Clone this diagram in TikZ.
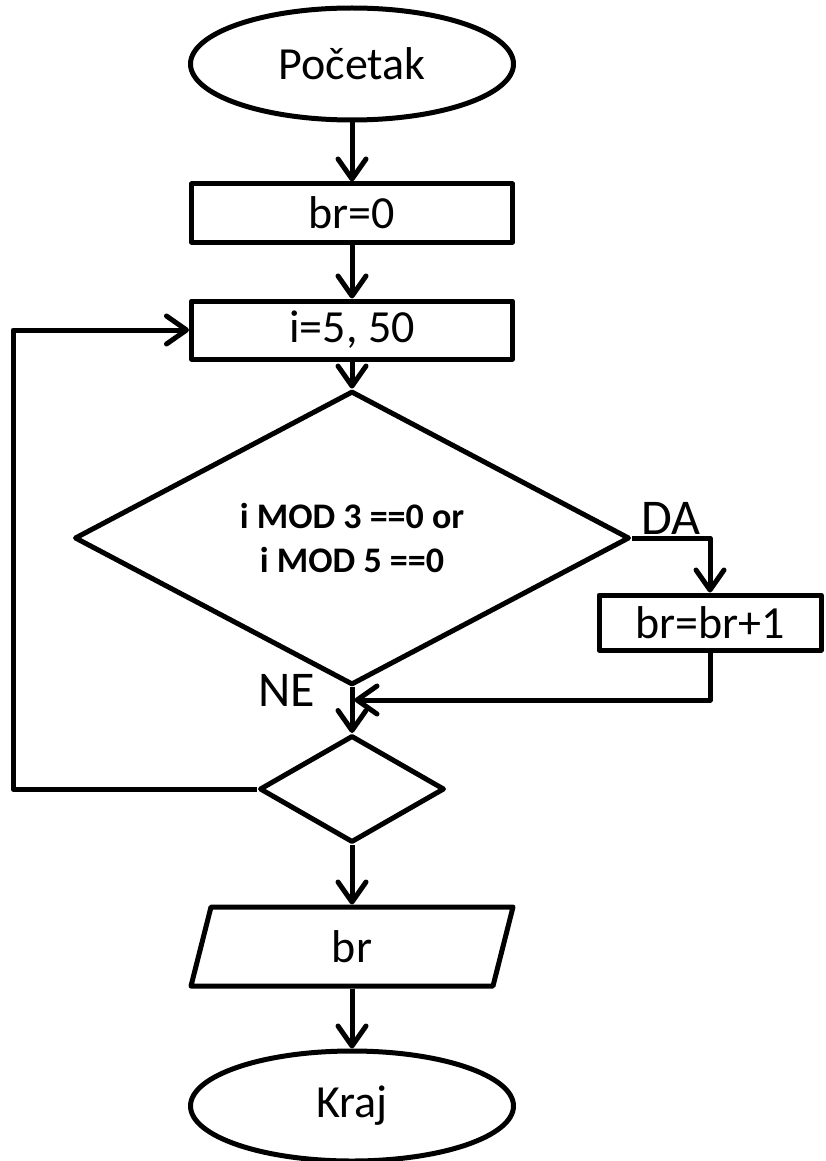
\documentclass[tikz,border=0pt]{standalone}
\usepackage{fontspec}
\setmainfont{Carlito}
\usetikzlibrary{shapes.geometric,arrows.meta,calc}
\begin{document}
\begin{tikzpicture}[x=1pt,y=-1pt,
  every node/.style={font=\fontsize{46}{52}\selectfont},
  flow/.style={line width=5pt, line join=round},
  term/.style={flow, draw, ellipse, minimum width=323pt, minimum height=112pt, inner sep=0pt},
  procbox/.style={flow, draw, rectangle, minimum width=321pt, minimum height=58pt, inner sep=0pt},
  decide/.style={flow, draw, diamond, inner sep=0pt},
  arr/.style={flow, -{Straight Barb[length=20pt,width=28pt,line cap=round,line join=round]}},
  lbl/.style={font=\fontsize{50}{56}\selectfont, inner sep=0pt}
]
\useasboundingbox (0,0) rectangle (825,1161);

% blocks
\node[term] (start) at (352,64) {Početak};
\node[procbox] (init) at (352,213) {br=0};
\node[procbox] (loop) at (352,330) {i=5, 50};
\node[decide, minimum width=555pt, minimum height=255pt, align=center,
      font=\bfseries\fontsize{36}{44}\selectfont] (cond) at (352,538)
      {i MOD 3 ==0 or\\i MOD 5 ==0};
\node[procbox, minimum width=222pt, minimum height=55pt] (inc) at (710,622.5) {br=br+1};
\node[decide, minimum width=185pt, minimum height=107pt] (test) at (352,789) {};
\node[inner sep=0pt, outer sep=0pt, minimum width=302pt, minimum height=79pt] (out) at (352,946.5) {br};
\draw[flow] ($(out.south west)+(-10,0)$) -- ($(out.north west)+(10,0)$)
  -- ($(out.north east)+(10,0)$) -- ($(out.south east)+(-10,0)$) -- cycle;
\node[term, minimum height=110pt] (stop) at (352,1106) {Kraj};

% branch labels
\node[lbl] (da) at (671,518) {DA};
\node[lbl] (ne) at (287,690) {NE};

% helper points
\coordinate (merge) at (354.5,700);
\coordinate (back) at (13,789);

% connectors
\draw[arr] (start.south) -- (init.north);
\draw[arr] (init.south) -- (loop.north);
\draw[arr] (loop.south) -- (cond.north);
\draw[arr] (cond.east) -| (inc.north);
\draw[arr] (inc.south) |- (merge);
\draw[arr] (cond.south) -- (test.north);
\draw[arr] (test.west) -- (back) |- (loop.west);
\draw[arr] (test.south) -- ($(out.north)+(0,-2.5)$);
\draw[arr] ($(out.south)+(0,2.5)$) -- (stop.north);
\end{tikzpicture}
\end{document}
